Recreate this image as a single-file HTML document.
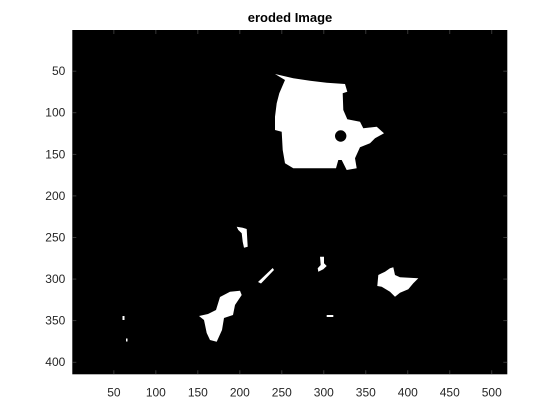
<!DOCTYPE html>
<html><head><meta charset="utf-8"><style>
html,body{margin:0;padding:0;background:#fff;}
svg{display:block;font-family:"Liberation Sans",Arial,sans-serif;}
</style></head><body>
<svg id="fig" width="560" height="420" viewBox="0 0 560 420">
<text x="290" y="22" text-anchor="middle" font-size="13" font-weight="bold" fill="#000">eroded Image</text>
<rect x="72.3" y="30" width="435" height="344.3" fill="#000"/>
<g fill="#fff">
<path fill-rule="evenodd" d="M275,74 L293.3,78.3 L310,80.7 L326.7,82.7 L345,84 L347.3,91.7 L342.7,93.3 L343.3,110 L347.3,119.3 L360,121.7 L363.3,128.3 L376.7,126.7 L384,133.3 L375,138.3 L370,143.3 L360,147.3 L355,158.3 L356.7,168.3 L346.7,170 L341.7,160 L338.3,160 L336,168.3 L293.3,168.3 L285,163.3 L282.7,150 L281.7,131.7 L275,130 L275,116.7 L276.7,103.3 L279.3,93.3 L285,80 Z M335,136 a5.7,5.7 0 1,0 11.4,0 a5.7,5.7 0 1,0 -11.4,0 Z"/>
<polygon points="236.7,226.7 242.7,227.7 246.7,229 247.3,240 247.7,246.7 244,247.7 242.7,241.7 241.7,233.3 238.3,230"/>
<polygon points="272.7,268 274,270 261,283.5 258,282"/>
<polygon points="230,291.7 240,290.7 241.7,295 235,305 233,315 224,318 222,330 216.7,341.7 210,340 206.7,333 204,320 199,316 208,314 216,310 220,297"/>
<polygon points="320,256.7 324,256.7 324,263.3 326.7,266 323.3,269.3 318.3,271.7 317.7,268.3 320.7,265"/>
<polygon points="378.3,275 385,271.7 390,268.3 393.3,267.3 395,275 400,277.3 418.3,278.3 413.3,283.3 408.3,289.3 400,292.7 395,296.7 390,291.7 381.7,286.7 377.3,286"/>
<rect x="326.7" y="315" width="6.6" height="2"/>
<rect x="122.5" y="316" width="2" height="4"/>
<rect x="126" y="338.5" width="1.5" height="3"/>
</g>
<g id="xticks"></g>
<g id="yticks"></g>
</svg>
<script>
const xTickValues = [50,100,150,200,250,300,350,400,450,500];
const yTickValues = [50,100,150,200,250,300,350,400];
const ns = "http://www.w3.org/2000/svg";
const X0 = 72.3, Y0 = 30, W = 435, H = 344.3, IW = 518, IH = 414;
function xs(v){ return X0 + (v - 0.5) * W / IW; }
function ys(v){ return Y0 + (v - 0.5) * H / IH; }
const gx = document.getElementById('xticks');
const gy = document.getElementById('yticks');
xTickValues.forEach(v => {
  const x = xs(v);
  const t1 = document.createElementNS(ns,'line');
  t1.setAttribute('x1',x); t1.setAttribute('x2',x); t1.setAttribute('y1',Y0+H); t1.setAttribute('y2',Y0+H-4);
  t1.setAttribute('stroke','#444'); t1.setAttribute('stroke-width','0.8');
  
  
  gx.appendChild(t1);
  const t2 = document.createElementNS(ns,'line');
  t2.setAttribute('x1',x); t2.setAttribute('x2',x); t2.setAttribute('y1',Y0); t2.setAttribute('y2',Y0+4);
  t2.setAttribute('stroke','#444'); t2.setAttribute('stroke-width','0.8');
  
  
  gx.appendChild(t2);
  const lb = document.createElementNS(ns,'text');
  lb.setAttribute('x',x); lb.setAttribute('y',Y0+H+22);
  lb.setAttribute('text-anchor','middle'); lb.setAttribute('font-size','12'); lb.setAttribute('fill','#262626');
  lb.textContent = v;
  
  
  gx.appendChild(lb);
});
yTickValues.forEach(v => {
  const y = ys(v);
  const t1 = document.createElementNS(ns,'line');
  t1.setAttribute('x1',X0); t1.setAttribute('x2',X0+4); t1.setAttribute('y1',y); t1.setAttribute('y2',y);
  t1.setAttribute('stroke','#444'); t1.setAttribute('stroke-width','0.8');
  
  
  gy.appendChild(t1);
  const t2 = document.createElementNS(ns,'line');
  t2.setAttribute('x1',X0+W); t2.setAttribute('x2',X0+W-4); t2.setAttribute('y1',y); t2.setAttribute('y2',y);
  t2.setAttribute('stroke','#444'); t2.setAttribute('stroke-width','0.8');
  
  
  gy.appendChild(t2);
  const lb = document.createElementNS(ns,'text');
  lb.setAttribute('x',X0-7); lb.setAttribute('y',y+4);
  lb.setAttribute('text-anchor','end'); lb.setAttribute('font-size','12'); lb.setAttribute('fill','#262626');
  lb.textContent = v;
  
  
  gy.appendChild(lb);
});
</script>
</body></html>
